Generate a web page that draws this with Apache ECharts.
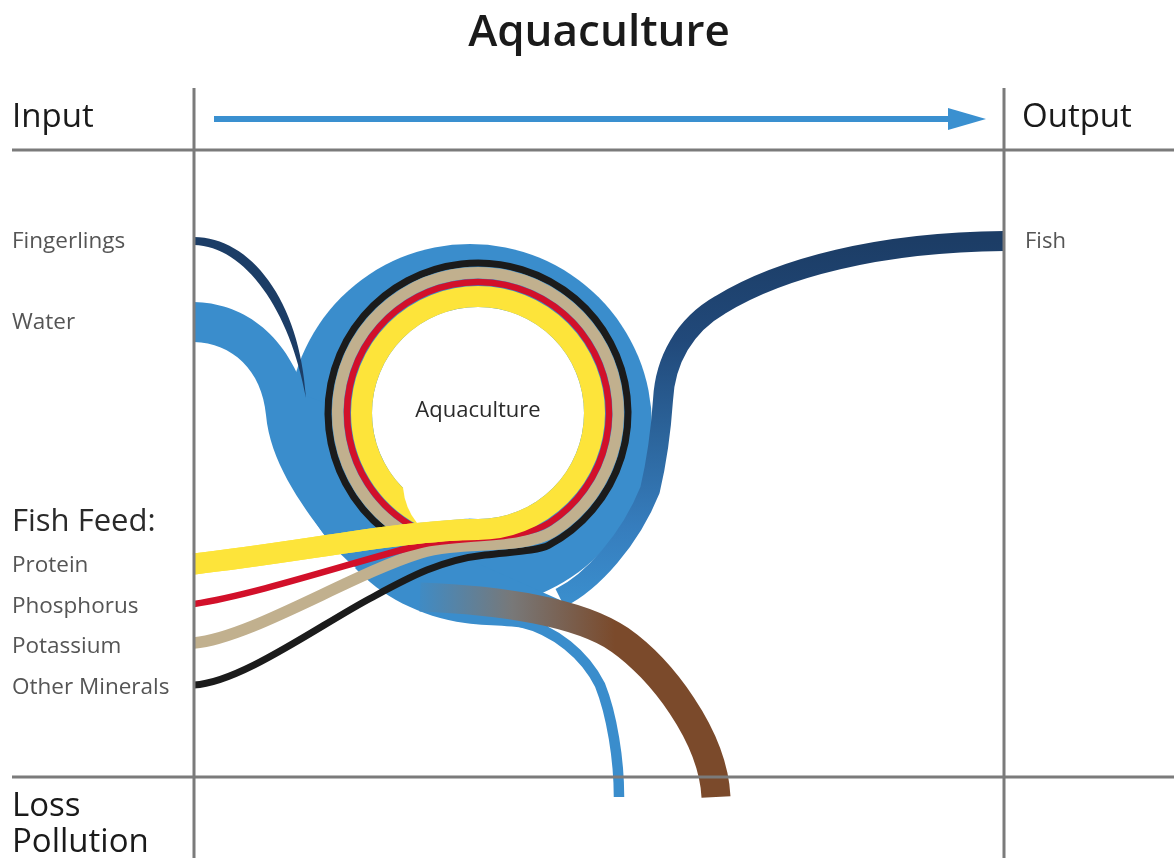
<!DOCTYPE html>
<html><head><meta charset="utf-8">
<script src="https://cdn.jsdelivr.net/npm/echarts@6/dist/echarts.min.js"></script>
<style>html,body{margin:0;padding:0;background:#fff}#c{width:1174px;height:858px}</style>
</head><body><div id="c"></div>
<script>
const FONT = "'Open Sans', 'Noto Sans', sans-serif";

// ---- text content ----
const titleText = 'Aquaculture';
const headerLabels = ['Input', 'Output'];
const inputLabels = ['Fingerlings', 'Water'];
const inputLabelY = [242, 323];
const feedHeader = 'Fish Feed:';
const feedLabels = ['Protein', 'Phosphorus', 'Potassium', 'Other Minerals'];
const feedLabelY = [566, 607, 647, 688];
const outputLabels = ['Fish'];
const outputLabelY = [242];
const lossLabels = ['Loss', 'Pollution'];
const lossLabelY = [807, 843];
const centerLabel = 'Aquaculture';

// ---- diagram geometry (data units of a hidden 1174 x 858 plane) ----
const blueCenter = [470, 426];
const blueRadius = 182;
const ringCenter = [478, 413];
const ringInnerRadius = 106;

const feedColors = ['#fde43a', '#d2102a', '#c1b08e', '#1b1b1b'];
const feedRadius = [116.5, 131, 140.3, 150];
const feedWidth = [21, 6.5, 11.5, 7];
const feedJoinAngle = [90, 57, 58, 62];
const feedEndAngle = [118, 117, 122, 128];
const feedLead = [70, 35, 35, 12];
const feedLeadPts = [
  [[194, 564], [300, 552]],
  [[194, 604], [255, 595], [360, 560], [420, 545], [460, 535]],
  [[194, 643], [250, 638], [350, 575], [420, 553], [460, 540]],
  [[194, 685], [240, 683], [320, 625], [371, 598], [408, 578], [440, 560], [485, 555], [510, 552]]
];
const wedgeAngles = [135, 95];
const wedgeCurve = [[405, 508], [417, 523]];

const waterPath = [['M',194,302],['C',240,303,285,330,306,396],['L',400,430],['L',400,540],['L',327,538],
  ['C',299,502,270,460,266,415],['C',262,370,232,343,194,342],['Z']];
const fingerlingPath = [['M',194,237],['C',250,237,300,300,306,398],['C',290,310,245,246,194,245],['Z']];
const fishPath = [['M',560,598],['C',592,582,630,540,650,490],['C',657,460,661,430,663,400],
  ['C',665,360,685,325,720,305],['C',780,268,880,242,1004,241]];
const lossBlobPath = [['M',355,568],['C',380,595,420,617,465,623],['C',495,627,520,624,545,633],['L',560,600],['L',470,560],['Z']];
const lossPath = [['M',520,622],['C',555,630,585,655,600,685],['C',612,715,619,760,619,797]];
const pollutionPath = [['M',420,597],['C',500,600,580,612,620,640],['C',660,668,713,735,716,797]];

const BLUE = '#3a8dcc';
const NAVY = '#1c3d66';

function toPath(api, cmds) {
  let s = '';
  cmds.forEach(c => {
    s += c[0];
    for (let k = 1; k + 1 < c.length; k += 2) {
      const p = api.coord([c[k], c[k + 1]]);
      s += p[0].toFixed(2) + ' ' + p[1].toFixed(2) + ' ';
    }
  });
  return s;
}
function xy(api, p) { const q = api.coord(p); return q[0].toFixed(2) + ' ' + q[1].toFixed(2); }
function polar(r, deg) {
  const a = deg * Math.PI / 180;
  return [ringCenter[0] + r * Math.cos(a), ringCenter[1] + r * Math.sin(a)];
}

function feedPath(api, i, withArc) {
  const r = feedRadius[i];
  const a = feedJoinAngle[i] * Math.PI / 180;
  const J = polar(r, feedJoinAngle[i]);
  const T = [Math.sin(a), -Math.cos(a)];
  const L = feedLead[i];
  const C2 = [J[0] - T[0] * L, J[1] - T[1] * L];
  const pts = feedLeadPts[i];
  let s = 'M' + xy(api, pts[0]);
  let k = 1;
  while (k + 3 < pts.length) {
    s += 'C' + xy(api, pts[k]) + ' ' + xy(api, pts[k + 1]) + ' ' + xy(api, pts[k + 2]);
    k += 3;
  }
  s += 'C' + xy(api, pts[k]) + ' ' + xy(api, C2) + ' ' + xy(api, J);
  if (withArc) {
    const E = polar(r, feedEndAngle[i]);
    const rp = api.size([r, 0])[0];
    s += 'A' + rp.toFixed(2) + ' ' + rp.toFixed(2) + ' 0 1 0 ' + xy(api, E);
  }
  return s;
}

function renderBase(params, api) {
  const bc = api.coord(blueCenter);
  const br = api.size([blueRadius, 0])[0];
  const rc = api.coord(ringCenter);
  const rr = api.size([ringInnerRadius, 0])[0];
  const pollA = api.coord([410, 0]), pollB = api.coord([615, 0]);
  const fishA = api.coord([0, 598]), fishB = api.coord([0, 241]);
  const pollGrad = new echarts.graphic.LinearGradient(pollA[0], 0, pollB[0], 0, [
    { offset: 0, color: BLUE }, { offset: 0.5, color: '#787878' }, { offset: 1, color: '#7b4a2b' }], true);
  const fishGrad = new echarts.graphic.LinearGradient(0, fishA[1], 0, fishB[1], [
    { offset: 0, color: BLUE }, { offset: 0.2, color: '#367dbd' }, { offset: 0.45, color: '#2c659c' },
    { offset: 0.72, color: '#21497a' }, { offset: 1, color: NAVY }], true);
  return {
    type: 'group',
    children: [
      { type: 'circle', shape: { cx: bc[0], cy: bc[1], r: br }, style: { fill: BLUE } },
      { type: 'path', shape: { pathData: toPath(api, waterPath) }, style: { fill: BLUE } },
      { type: 'path', shape: { pathData: toPath(api, lossBlobPath) }, style: { fill: BLUE } },
      { type: 'path', shape: { pathData: toPath(api, lossPath) }, style: { fill: 'none', stroke: BLUE, lineWidth: 10.5, lineCap: 'butt' } },
      { type: 'path', shape: { pathData: toPath(api, fishPath) }, style: { fill: 'none', stroke: fishGrad, lineWidth: 20, lineCap: 'butt' } },
      { type: 'path', shape: { pathData: toPath(api, pollutionPath) }, style: { fill: 'none', stroke: pollGrad, lineWidth: 29, lineCap: 'butt' } },
      { type: 'circle', shape: { cx: rc[0], cy: rc[1], r: rr }, style: { fill: '#ffffff' } },
      { type: 'path', shape: { pathData: toPath(api, fingerlingPath) }, style: { fill: NAVY } }
    ]
  };
}

function renderFeed(params, api) {
  const i = api.value(0);
  if (i === 4) {
    // white notch where the protein ring spirals into its incoming stream
    const P1 = polar(ringInnerRadius, wedgeAngles[0]);
    const P2 = polar(ringInnerRadius, wedgeAngles[1]);
    const s = 'M' + xy(api, ringCenter) + 'L' + xy(api, P1) + 'Q' + xy(api, wedgeCurve[0]) + ' ' + xy(api, wedgeCurve[1]) +
      'L' + xy(api, P2) + 'Z';
    return { type: 'path', shape: { pathData: s }, style: { fill: '#ffffff' } };
  }
  if (i === 5) {
    return { type: 'path', shape: { pathData: feedPath(api, 0, false) },
      style: { fill: 'none', stroke: feedColors[0], lineWidth: feedWidth[0], lineCap: 'butt' } };
  }
  return {
    type: 'path',
    shape: { pathData: feedPath(api, i, true) },
    style: { fill: 'none', stroke: feedColors[i], lineWidth: feedWidth[i], lineCap: 'butt', lineJoin: 'round' }
  };
}

const GRAY = '#7b7b7b';
const graphics = [
  { type: 'line', shape: { x1: 194, y1: 88, x2: 194, y2: 858 }, style: { stroke: GRAY, lineWidth: 3 } },
  { type: 'line', shape: { x1: 1004, y1: 88, x2: 1004, y2: 858 }, style: { stroke: GRAY, lineWidth: 3 } },
  { type: 'line', shape: { x1: 12, y1: 150, x2: 1174, y2: 150 }, style: { stroke: GRAY, lineWidth: 3 } },
  { type: 'line', shape: { x1: 12, y1: 777, x2: 1174, y2: 777 }, style: { stroke: GRAY, lineWidth: 3 } },
  { type: 'line', shape: { x1: 214, y1: 119, x2: 952, y2: 119 }, style: { stroke: '#3a90d0', lineWidth: 6 } },
  { type: 'polygon', shape: { points: [[948, 108], [986, 119], [948, 130]] }, style: { fill: '#3a90d0' } },
  { type: 'text', style: { text: titleText, x: 599, y: 33, fill: '#1a1a1a', font: '600 44px ' + FONT, textAlign: 'center', textVerticalAlign: 'middle' } },
  { type: 'text', style: { text: headerLabels[0], x: 12, y: 118, fill: '#1a1a1a', font: '33px ' + FONT, textAlign: 'left', textVerticalAlign: 'middle' } },
  { type: 'text', style: { text: headerLabels[1], x: 1022, y: 118, fill: '#1a1a1a', font: '33px ' + FONT, textAlign: 'left', textVerticalAlign: 'middle' } },
  { type: 'text', style: { text: feedHeader, x: 12, y: 522, fill: '#2a2a2a', font: '31px ' + FONT, textAlign: 'left', textVerticalAlign: 'middle' } },
  { type: 'text', style: { text: centerLabel, x: 478, y: 411, fill: '#2a2a2a', font: '500 22px ' + FONT, textAlign: 'center', textVerticalAlign: 'middle' } }
];
inputLabels.forEach((t, i) => graphics.push({ type: 'text', style: { text: t, x: 12, y: inputLabelY[i], fill: '#555', font: '22.5px ' + FONT, textAlign: 'left', textVerticalAlign: 'middle' } }));
feedLabels.forEach((t, i) => graphics.push({ type: 'text', style: { text: t, x: 12, y: feedLabelY[i], fill: '#555', font: '22.5px ' + FONT, textAlign: 'left', textVerticalAlign: 'middle' } }));
outputLabels.forEach((t, i) => graphics.push({ type: 'text', style: { text: t, x: 1025, y: outputLabelY[i], fill: '#555', font: '22px ' + FONT, textAlign: 'left', textVerticalAlign: 'middle' } }));
lossLabels.forEach((t, i) => graphics.push({ type: 'text', style: { text: t, x: 12, y: lossLabelY[i], fill: '#1a1a1a', font: '33px ' + FONT, textAlign: 'left', textVerticalAlign: 'middle' } }));

const chart = echarts.init(document.getElementById('c'), null, { renderer: 'canvas' });
chart.setOption({
  animation: false,
  backgroundColor: '#ffffff',
  grid: { left: 0, right: 0, top: 0, bottom: 0 },
  xAxis: { type: 'value', min: 0, max: 1174, show: false },
  yAxis: { type: 'value', min: 0, max: 858, inverse: true, show: false },
  graphic: { elements: graphics.map(g => Object.assign({ z: 100 }, g)) },
  series: [
    { type: 'custom', coordinateSystem: 'cartesian2d', silent: true, z: 2, data: [[0, 0]], renderItem: renderBase },
    { type: 'custom', coordinateSystem: 'cartesian2d', silent: true, z: 3, data: [[3, 0], [2, 0], [1, 0], [0, 0], [4, 0], [5, 0]], renderItem: renderFeed }
  ]
});
</script></body></html>
